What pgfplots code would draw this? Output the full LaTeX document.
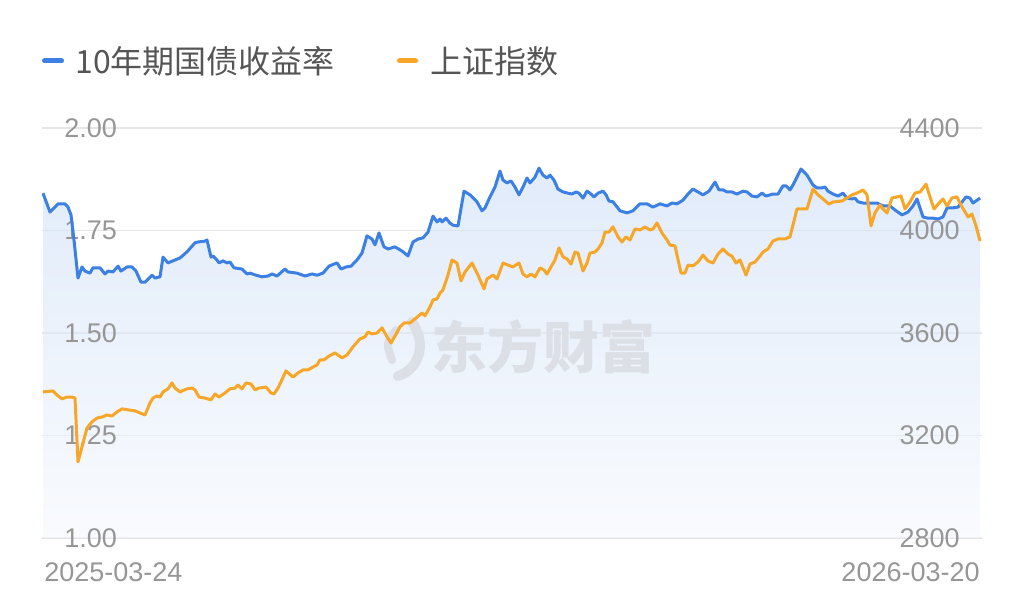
\documentclass[border=0pt]{standalone}
\usepackage{fontspec}
\setmainfont{Liberation Sans}
\newfontfamily\cjk{Noto Sans CJK SC}
\usepackage{pgfplots}
\pgfplotsset{compat=1.18}
\definecolor{cblue}{RGB}{59,128,226}
\definecolor{corange}{RGB}{247,166,40}
\definecolor{tickgray}{RGB}{150,150,150}
\definecolor{legtext}{RGB}{85,85,85}
\definecolor{gridc}{RGB}{230,230,230}
\definecolor{wm}{RGB}{220,223,230}
\definecolor{filltop}{RGB}{205,222,247}
\definecolor{fillbot}{RGB}{245,248,253}
\begin{document}
\begin{tikzpicture}
\pgfplotsset{base/.style={scale only axis, width=470pt, height=205pt, xmin=42, xmax=982,
  axis line style={draw=none}, major tick length=0pt, xtick=\empty,
  tick label style={font=\fontsize{13.5}{16}\selectfont, text=tickgray},
  /pgf/number format/assume math mode=true}}
\pgfplotstableread{
x y
43 1.841
50 1.795
55 1.807
58 1.815
65 1.815
68 1.807
71 1.788
74 1.727
78 1.634
82 1.661
85 1.651
90 1.646
93 1.659
100 1.659
105 1.644
108 1.651
113 1.649
118 1.663
121 1.651
127 1.661
132 1.661
136 1.651
141 1.624
145 1.624
152 1.641
155 1.634
160 1.637
163 1.685
168 1.671
175 1.678
180 1.683
187 1.698
195 1.720
198 1.722
205 1.724
207 1.727
211 1.685
213 1.688
217 1.678
219 1.671
223 1.676
227 1.671
230 1.673
234 1.659
242 1.656
247 1.644
250 1.646
256 1.641
262 1.637
268 1.639
272 1.644
277 1.639
285 1.656
288 1.649
297 1.646
305 1.639
312 1.644
317 1.641
323 1.646
329 1.663
337 1.671
341 1.656
346 1.661
351 1.663
357 1.678
362 1.695
367 1.737
372 1.729
375 1.715
379 1.744
384 1.710
388 1.705
395 1.710
402 1.700
408 1.688
413 1.722
418 1.729
423 1.732
428 1.746
433 1.785
437 1.771
440 1.778
442 1.771
446 1.780
450 1.768
453 1.763
458 1.761
464 1.846
470 1.837
477 1.820
482 1.798
485 1.805
490 1.832
495 1.856
500 1.895
503 1.873
507 1.866
511 1.871
515 1.856
519 1.837
523 1.856
527 1.878
530 1.866
535 1.880
539 1.902
543 1.885
547 1.878
550 1.885
554 1.873
558 1.851
563 1.844
568 1.841
572 1.839
576 1.844
579 1.841
583 1.829
587 1.846
590 1.841
594 1.832
598 1.841
603 1.846
606 1.837
609 1.822
613 1.820
620 1.798
627 1.793
633 1.798
640 1.815
647 1.815
653 1.807
660 1.815
667 1.810
672 1.817
677 1.815
683 1.824
688 1.839
693 1.851
698 1.844
703 1.837
709 1.846
715 1.868
719 1.849
723 1.849
727 1.844
732 1.844
737 1.839
743 1.846
747 1.844
752 1.834
757 1.832
762 1.841
766 1.834
773 1.839
778 1.839
783 1.859
786 1.859
790 1.849
793 1.861
801 1.900
807 1.885
813 1.861
817 1.854
822 1.854
825 1.856
828 1.846
833 1.839
838 1.834
843 1.841
847 1.829
852 1.827
855 1.829
858 1.820
863 1.817
868 1.817
877 1.817
883 1.810
890 1.810
895 1.800
902 1.788
908 1.795
913 1.810
917 1.827
923 1.783
928 1.780
933 1.780
938 1.778
943 1.783
947 1.805
952 1.805
958 1.807
966 1.832
970 1.829
973 1.817
980 1.829
}\bond
\pgfplotstableread{
x y
43 1.841
50 1.795
55 1.807
58 1.815
65 1.815
68 1.807
71 1.788
74 1.727
78 1.634
82 1.661
85 1.651
90 1.646
93 1.659
100 1.659
105 1.644
108 1.651
113 1.649
118 1.663
121 1.651
127 1.661
132 1.661
136 1.651
141 1.624
145 1.624
152 1.641
155 1.634
160 1.637
163 1.685
168 1.671
175 1.678
180 1.683
187 1.698
195 1.720
198 1.722
205 1.724
207 1.727
211 1.685
213 1.688
217 1.678
219 1.671
223 1.676
227 1.671
230 1.673
234 1.659
242 1.656
247 1.644
250 1.646
256 1.641
262 1.637
268 1.639
272 1.644
277 1.639
285 1.656
288 1.649
297 1.646
305 1.639
312 1.644
317 1.641
323 1.646
329 1.663
337 1.671
341 1.656
346 1.661
351 1.663
357 1.678
362 1.695
367 1.737
372 1.729
375 1.715
379 1.744
384 1.710
388 1.705
395 1.710
402 1.700
408 1.688
413 1.722
418 1.729
423 1.732
428 1.746
433 1.785
437 1.771
440 1.778
442 1.771
446 1.780
450 1.768
453 1.763
458 1.761
464 1.846
470 1.837
477 1.820
482 1.798
485 1.805
490 1.832
495 1.856
500 1.895
503 1.873
507 1.866
511 1.871
515 1.856
519 1.837
523 1.856
527 1.878
530 1.866
535 1.880
539 1.902
543 1.885
547 1.878
550 1.885
554 1.873
558 1.851
563 1.844
568 1.841
572 1.839
576 1.844
579 1.841
583 1.829
587 1.846
590 1.841
594 1.832
598 1.841
603 1.846
606 1.837
609 1.822
613 1.820
620 1.798
627 1.793
633 1.798
640 1.815
647 1.815
653 1.807
660 1.815
667 1.810
672 1.817
677 1.815
683 1.824
688 1.839
693 1.851
698 1.844
703 1.837
709 1.846
715 1.868
719 1.849
723 1.849
727 1.844
732 1.844
737 1.839
743 1.846
747 1.844
752 1.834
757 1.832
762 1.841
766 1.834
773 1.839
778 1.839
783 1.859
786 1.859
790 1.849
793 1.861
801 1.900
807 1.885
813 1.861
817 1.854
822 1.854
825 1.856
828 1.846
833 1.839
838 1.834
843 1.841
847 1.829
852 1.827
855 1.829
858 1.820
863 1.817
868 1.817
877 1.817
883 1.810
890 1.810
895 1.800
902 1.788
908 1.795
913 1.810
917 1.827
923 1.783
928 1.780
933 1.780
938 1.778
943 1.783
947 1.805
952 1.805
958 1.807
966 1.832
970 1.829
973 1.817
980 1.829
980 1.000
43 1.000
}\bondarea
\pgfplotstableread{
x y
43 3370
53 3374
57 3358
62 3343
67 3350
72 3350
75 3346
78 3097
82 3155
87 3229
92 3253
97 3268
102 3272
107 3280
112 3276
117 3292
122 3304
128 3300
135 3296
140 3288
145 3280
150 3327
153 3346
157 3354
160 3350
163 3370
168 3382
172 3405
175 3385
180 3370
187 3382
192 3385
195 3378
199 3350
205 3346
211 3339
215 3362
219 3350
225 3366
230 3382
235 3385
238 3397
242 3382
246 3405
251 3401
255 3378
259 3385
266 3389
271 3366
274 3362
278 3385
286 3452
293 3428
298 3444
303 3456
308 3456
313 3467
317 3475
320 3495
324 3495
329 3510
335 3522
342 3503
347 3514
353 3546
360 3577
365 3585
368 3604
372 3596
377 3600
382 3620
387 3585
391 3561
395 3588
400 3624
404 3639
410 3639
415 3655
422 3678
425 3667
430 3702
433 3729
437 3733
440 3756
443 3768
448 3826
452 3885
457 3873
461 3803
465 3838
472 3873
478 3826
484 3772
487 3811
493 3826
497 3811
503 3873
508 3865
513 3858
519 3873
523 3830
527 3819
531 3830
535 3819
540 3854
544 3846
547 3830
552 3865
555 3885
559 3932
563 3897
567 3889
571 3869
575 3916
578 3912
583 3842
587 3873
590 3912
595 3916
598 3928
602 3951
605 3994
609 3994
613 4014
618 3975
622 3955
626 3975
630 3963
635 4006
640 4002
645 4014
650 4002
653 4006
657 4029
662 3990
667 3963
670 3943
675 3940
681 3834
685 3834
688 3865
693 3862
698 3877
703 3904
708 3881
713 3873
718 3908
723 3928
728 3908
732 3900
736 3873
740 3885
746 3826
750 3869
755 3877
760 3900
763 3916
768 3928
773 3959
778 3967
785 3967
790 3975
797 4084
802 4084
807 4084
813 4162
818 4139
823 4123
829 4103
833 4111
842 4115
847 4127
852 4139
857 4146
863 4158
867 4139
871 4018
875 4068
880 4100
883 4084
887 4068
892 4127
897 4131
901 4135
905 4084
910 4111
915 4146
920 4150
926 4181
930 4131
934 4084
940 4111
943 4123
947 4096
952 4127
957 4131
962 4092
968 4053
972 4064
976 4018
980 3959
}\index
% layer 1: grid, area, watermark
\begin{axis}[base, ymin=1, ymax=2, ytick={1,1.25,1.5,1.75,2}, yticklabels={}, ymajorgrids,
  grid style={gridc, line width=0.6pt}]
\addplot[draw=none, fill opacity=0.6, top color=filltop, bottom color=fillbot] table {\bondarea};
\draw[wm, line width=5pt, line cap=round] (axis cs:412,1.527) .. controls (axis cs:428,1.471) and (axis cs:418,1.410) .. (axis cs:398,1.395);
\draw[wm, line width=4pt, line cap=round] (axis cs:396,1.507) .. controls (axis cs:386,1.475) .. (axis cs:392,1.434);
\node[text=wm, font=\cjk\bfseries\fontsize{28}{28}\selectfont] at (axis cs:543,1.466) {东方财富};
\end{axis}
% layer 2: left labels and bond yield line
\begin{axis}[base, ymin=1, ymax=2, ytick={1,1.25,1.5,1.75,2},
  yticklabel style={anchor=west, inner sep=0pt, xshift=11pt,
    /pgf/number format/fixed, /pgf/number format/fixed zerofill, /pgf/number format/precision=2}]
\addplot[cblue, line width=1.5pt, line join=round, mark=none] table {\bond};
\end{axis}
% layer 3: right labels and index line
\begin{axis}[base, ymin=2800, ymax=4400, ytick={2800,3200,3600,4000,4400},
  yticklabel pos=right,
  yticklabel style={anchor=east, inner sep=0pt, xshift=-11pt, /pgf/number format/1000 sep={}}]
\addplot[corange, line width=1.5pt, line join=round, mark=none] table {\index};
\end{axis}
% legend
\draw[cblue, line width=2.5pt, line cap=round] (1.25pt,238.5pt) -- (9.75pt,238.5pt);
\node[anchor=west, inner sep=0pt, text=legtext, font=\cjk\fontsize{16}{16}\selectfont] at (16.5pt,238.5pt) {10年期国债收益率};
\draw[corange, line width=2.5pt, line cap=round] (178.75pt,238.5pt) -- (186.75pt,238.5pt);
\node[anchor=west, inner sep=0pt, text=legtext, font=\cjk\fontsize{16}{16}\selectfont] at (194pt,238.5pt) {上证指数};
% date labels
\node[anchor=west, inner sep=0pt, text=tickgray, font=\fontsize{13.5}{16}\selectfont] at (1pt,-17pt) {2025-03-24};
\node[anchor=east, inner sep=0pt, text=tickgray, font=\fontsize{13.5}{16}\selectfont] at (469pt,-17pt) {2026-03-20};
\pgfresetboundingbox
\path[use as bounding box] (-21pt,-38pt) rectangle (491pt,269pt);
\end{tikzpicture}
\end{document}
